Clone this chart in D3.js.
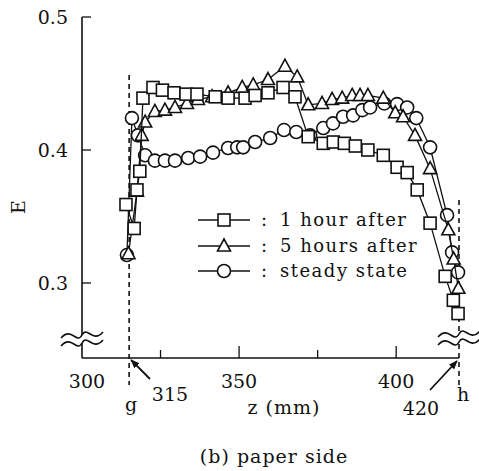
<!DOCTYPE html>
<html><head><meta charset="utf-8">
<script src="https://cdn.jsdelivr.net/npm/d3@7"></script>
<style>body{margin:0;background:#fff}svg{display:block}</style>
</head><body><svg id="c" width="479" height="471"></svg>
<script>
// ---- data ----
const seriesNames = ["1 hour after", "5 hours after", "steady state"];
const seriesShapes = ["square", "triangle", "circle"];
const zHour1 = [314.0,316.6,317.5,318.4,319.4,322.6,325.6,329.3,333.1,336.6,342.4,346.5,351.9,355.1,359.2,364.0,367.8,372.0,376.8,380.0,383.5,387.0,391.0,395.9,400.3,403.5,406.7,410.8,415.6,418.2,419.7];
const eHour1 = [0.359,0.341,0.370,0.384,0.439,0.447,0.445,0.443,0.442,0.442,0.440,0.439,0.439,0.441,0.443,0.447,0.440,0.410,0.405,0.406,0.405,0.403,0.400,0.396,0.387,0.383,0.370,0.345,0.305,0.287,0.277];
const zHour5 = [314.8,317.5,319.0,320.1,323.2,326.4,329.6,333.4,336.9,341.4,346.5,351.0,354.5,359.2,364.6,368.5,372.0,376.4,379.6,382.8,386.0,388.5,391.0,395.9,399.7,402.2,406.0,410.8,416.6,418.3,419.8];
const eHour5 = [0.322,0.369,0.411,0.421,0.429,0.430,0.432,0.435,0.438,0.440,0.443,0.447,0.449,0.453,0.463,0.455,0.434,0.435,0.438,0.439,0.441,0.441,0.441,0.439,0.428,0.425,0.411,0.386,0.340,0.318,0.296];
const zSteady = [314.3,315.9,317.8,320.1,323.2,326.4,329.6,333.8,337.6,341.7,346.5,349.4,351.3,355.1,359.9,364.3,368.2,372.6,376.8,379.9,383.1,386.3,389.2,391.7,396.2,400.3,403.5,406.4,410.8,416.2,417.8,419.7];
const eSteady = [0.321,0.424,0.411,0.396,0.392,0.392,0.392,0.394,0.395,0.398,0.4015,0.402,0.402,0.406,0.409,0.415,0.4135,0.411,0.4165,0.420,0.425,0.426,0.430,0.432,0.435,0.4345,0.432,0.424,0.402,0.351,0.323,0.308];
const yTicks = [0.3, 0.4, 0.5];
const yTickLabels = ["0.3", "0.4", "0.5"];
const xTicksMajor = [350, 400];
const xTicksMinor = [325, 375];
const xTickLabels = ["300", "350", "400"];
const xLabelValues = [300, 350, 400];
const gZ = 315, hZ = 420;

// ---- scales ----
const x = d3.scaleLinear().domain([300, 420]).range([82, 459]);
const y = d3.scaleLinear().domain([0.2436, 0.5]).range([358, 17]);

const svg = d3.select("#c");
const font = "'DejaVu Serif', 'Liberation Serif', serif";
const ink = "#111";

// axes
const x0 = x(300), yBase = y(0.2436);
svg.append("line").attr("x1", x0).attr("x2", x(420)).attr("y1", yBase).attr("y2", yBase)
  .attr("stroke", ink).attr("stroke-width", 1.6);
svg.append("line").attr("x1", x0).attr("x2", x0).attr("y1", y(0.5)).attr("y2", yBase)
  .attr("stroke", ink).attr("stroke-width", 1.6);

// y ticks
yTicks.forEach((t, i) => {
  svg.append("line").attr("x1", x0).attr("x2", x0 + 9).attr("y1", y(t)).attr("y2", y(t))
    .attr("stroke", ink).attr("stroke-width", 1.3);
  svg.append("text").attr("x", 68).attr("y", y(t) + 7).attr("text-anchor", "end")
    .attr("font-family", font).attr("font-size", 19).attr("fill", ink).text(yTickLabels[i]);
});
// x ticks
xTicksMajor.forEach(t => svg.append("line").attr("x1", x(t)).attr("x2", x(t)).attr("y1", yBase).attr("y2", yBase - 12).attr("stroke", ink).attr("stroke-width", 1.3));
xTicksMinor.forEach(t => svg.append("line").attr("x1", x(t)).attr("x2", x(t)).attr("y1", yBase).attr("y2", yBase - 8).attr("stroke", ink).attr("stroke-width", 1.3));
xLabelValues.forEach((v, i) => svg.append("text").attr("x", x(v) + (i === 0 ? 5 : 0)).attr("y", yBase + 30)
  .attr("text-anchor", "middle").attr("font-family", font).attr("font-size", 19).attr("fill", ink).text(xTickLabels[i]));

// dashed g / h lines
svg.append("line").attr("x1", x(gZ)).attr("x2", x(gZ)).attr("y1", 75).attr("y2", yBase + 27)
  .attr("stroke", ink).attr("stroke-width", 1.6).attr("stroke-dasharray", "5,4");
svg.append("line").attr("x1", x(hZ)).attr("x2", x(hZ)).attr("y1", 200).attr("y2", yBase + 27)
  .attr("stroke", ink).attr("stroke-width", 1.6).attr("stroke-dasharray", "5,4");

// break marks
function brk(cx, cy, w) {
  const g = svg.append("g");
  const wave = (yy) => {
    const p = d3.path();
    p.moveTo(cx - w / 2, yy + 3);
    p.bezierCurveTo(cx - w / 4, yy - 9, cx - w / 8, yy + 10, cx, yy);
    p.bezierCurveTo(cx + w / 8, yy - 10, cx + w / 4, yy + 9, cx + w / 2, yy - 3);
    return p.toString();
  };
  g.append("rect").attr("x", cx - 6).attr("y", cy - 4).attr("width", 12).attr("height", 8).attr("fill", "#fff");
  g.append("path").attr("d", wave(cy - 4)).attr("fill", "none").attr("stroke", ink).attr("stroke-width", 1.6);
  g.append("path").attr("d", wave(cy + 4)).attr("fill", "none").attr("stroke", ink).attr("stroke-width", 1.6);
}
brk(x0, 339, 42);

// markers
function drawMarker(g, shape, cx, cy) {
  if (shape === "square") {
    g.append("rect").attr("x", cx - 6).attr("y", cy - 6).attr("width", 12).attr("height", 12)
      .attr("fill", "#fff").attr("stroke", ink).attr("stroke-width", 1.6);
  } else if (shape === "triangle") {
    g.append("path").attr("d", `M${cx},${cy - 7}L${cx + 6.5},${cy + 5}L${cx - 6.5},${cy + 5}Z`)
      .attr("fill", "#fff").attr("stroke", ink).attr("stroke-width", 1.6).attr("stroke-linejoin", "miter");
  } else {
    g.append("circle").attr("cx", cx).attr("cy", cy).attr("r", 6.5)
      .attr("fill", "#fff").attr("stroke", ink).attr("stroke-width", 1.6);
  }
}
const series = [[zSteady, eSteady, "circle"], [zHour5, eHour5, "triangle"], [zHour1, eHour1, "square"]];
const line = d3.line().x(d => x(d[0])).y(d => y(d[1]));
series.forEach(([zs, es, shape]) => {
  const pts = zs.map((z, i) => [z, es[i]]);
  const g = svg.append("g");
  g.append("path").attr("d", line(pts)).attr("fill", "none").attr("stroke", ink).attr("stroke-width", 1.3);
  pts.forEach(p => drawMarker(g, shape, x(p[0]), y(p[1])));
});

brk(x(hZ), 338, 42);

// legend
const legY = [220, 246, 271];
seriesNames.forEach((name, i) => {
  const g = svg.append("g");
  g.append("line").attr("x1", 198).attr("x2", 250).attr("y1", legY[i]).attr("y2", legY[i]).attr("stroke", ink).attr("stroke-width", 1.3);
  drawMarker(g, seriesShapes[i], 224, legY[i]);
  g.append("text").attr("x", 261).attr("y", legY[i] + 6).attr("font-family", font).attr("font-size", 18).attr("fill", ink).text(":");
  g.append("text").attr("x", 280).attr("y", legY[i] + 6).attr("font-family", font).attr("font-size", 18)
    .attr("letter-spacing", 1.5).attr("fill", ink).text(name);
});

// arrows
const defs = svg.append("defs");
defs.append("marker").attr("id", "ah").attr("viewBox", "0 0 10 10").attr("refX", 9).attr("refY", 5)
  .attr("markerWidth", 9).attr("markerHeight", 9).attr("markerUnits", "userSpaceOnUse").attr("orient", "auto")
  .append("path").attr("d", "M0,1L10,5L0,9Z").attr("fill", ink);
svg.append("line").attr("x1", 150).attr("y1", 379).attr("x2", x(gZ) + 2).attr("y2", yBase + 2)
  .attr("stroke", ink).attr("stroke-width", 1.8).attr("marker-end", "url(#ah)");
svg.append("line").attr("x1", 430).attr("y1", 390).attr("x2", x(hZ) - 2).attr("y2", yBase + 3)
  .attr("stroke", ink).attr("stroke-width", 1.8).attr("marker-end", "url(#ah)");

// labels
const txt = (t, xx, yy, size, ls) => svg.append("text").attr("x", xx).attr("y", yy)
  .attr("text-anchor", "middle").attr("font-family", font).attr("font-size", size)
  .attr("letter-spacing", ls || 0).attr("fill", ink).text(t);
txt(String(gZ), 170, 401, 19);
txt(String(hZ), 421, 415, 19);
txt("g", x(gZ) + 2, 411, 19);
txt("h", 463, 401, 19);
txt("z (mm)", 284, 414, 19, 1);
txt("(b) paper side", 274, 463, 19, 1);
svg.append("text").attr("transform", "translate(25,207) rotate(-90)").attr("text-anchor", "middle")
  .attr("font-family", font).attr("font-size", 19).attr("fill", ink).text("E");
</script>
</body></html>
